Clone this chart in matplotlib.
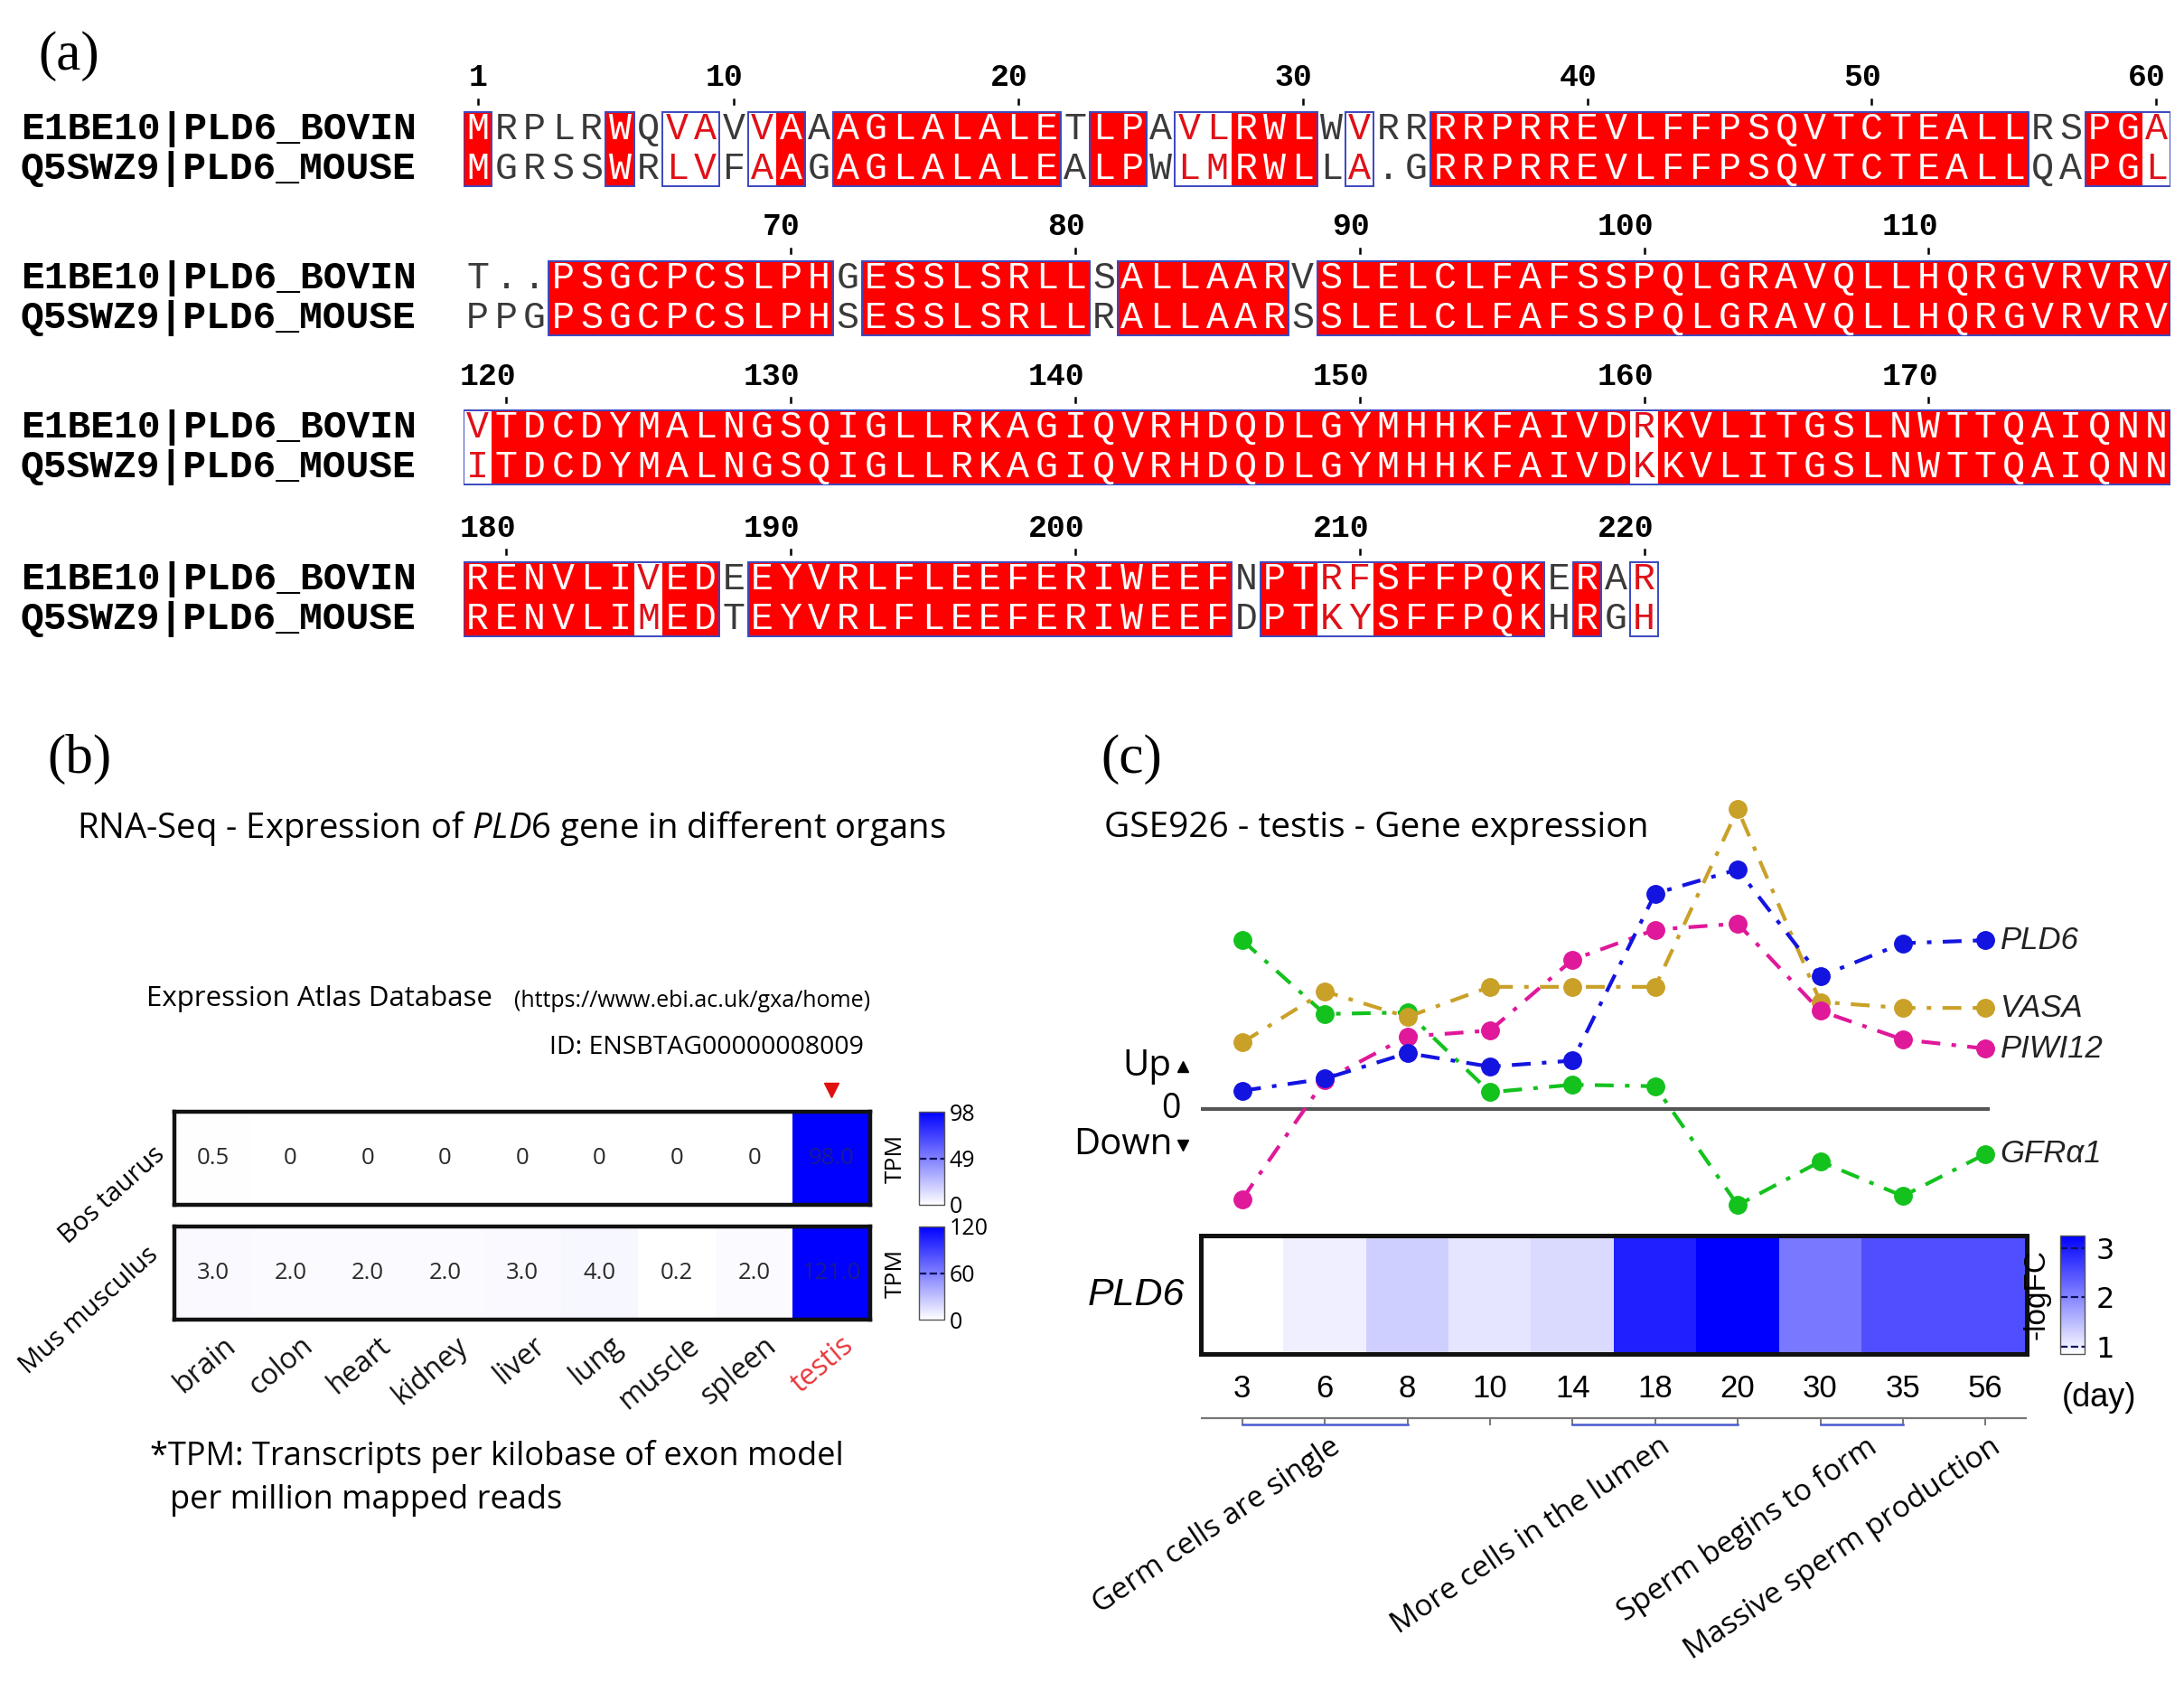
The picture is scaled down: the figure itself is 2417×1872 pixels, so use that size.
import matplotlib
matplotlib.use("Agg")
import matplotlib.pyplot as plt
import numpy as np
from matplotlib.colors import LinearSegmentedColormap, Normalize
from matplotlib.cm import ScalarMappable
from matplotlib.patches import Rectangle
from matplotlib import transforms

W, H = 2417, 1872
plt.rcParams["mathtext.fontset"] = "custom"
plt.rcParams["mathtext.rm"] = "Open Sans"
plt.rcParams["mathtext.it"] = "Open Sans:italic"

SANS = "Open Sans"
MONO = "Liberation Mono"
SERIF = "Liberation Serif"

# ---------------- (a) pairwise alignment ----------------
NAMES = ["E1BE10|PLD6_BOVIN", "Q5SWZ9|PLD6_MOUSE"]
BOVIN = [
    "MRPLRWQVAVVAAAGLALALETLPAVLRWLWVRRRRPRREVLFFPSQVTCTEALLRSPGA",
    "T..PSGCPCSLPHGESSLSRLLSALLAARVSLELCLFAFSSPQLGRAVQLLHQRGVRVRV",
    "VTDCDYMALNGSQIGLLRKAGIQVRHDQDLGYMHHKFAIVDRKVLITGSLNWTTQAIQNN",
    "RENVLIVEDEEYVRLFLEEFERIWEEFNPTRFSFFPQKERAR",
]
MOUSE = [
    "MGRSSWRLVFAAGAGLALALEALPWLMRWLLA.GRRPRREVLFFPSQVTCTEALLQAPGL",
    "PPGPSGCPCSLPHSESSLSRLLRALLAARSSLELCLFAFSSPQLGRAVQLLHQRGVRVRV",
    "ITDCDYMALNGSQIGLLRKAGIQVRHDQDLGYMHHKFAIVDKKVLITGSLNWTTQAIQNN",
    "RENVLIMEDTEYVRLFLEEFERIWEEFDPTKYSFFPQKHRGH",
]
SIMILAR = {"LV", "AV", "AL", "LM", "IV", "KR", "MV", "FY", "HR"}

# ---------------- (b) Expression Atlas ----------------
ORGANS = ["brain", "colon", "heart", "kidney", "liver", "lung", "muscle", "spleen", "testis"]
SPECIES = ["Bos taurus", "Mus musculus"]
TPM_BOS = [0.5, 0, 0, 0, 0, 0, 0, 0, 98.0]
TPM_MUS = [3.0, 2.0, 2.0, 2.0, 3.0, 4.0, 0.2, 2.0, 121.0]
TPM_LABELS_BOS = ["0.5", "0", "0", "0", "0", "0", "0", "0", "98.0"]
TPM_LABELS_MUS = ["3.0", "2.0", "2.0", "2.0", "3.0", "4.0", "0.2", "2.0", "121.0"]
CBAR_TICKS_BOS = [0, 49, 98]
CBAR_TICKS_MUS = [0, 60, 120]

# ---------------- (c) GSE926 ----------------
DAYS = ["3", "6", "8", "10", "14", "18", "20", "30", "35", "56"]
GENES = ["GFRα1", "VASA", "PIWI12", "PLD6"]
EXPR = {
    "PLD6":   [0.60, 1.00, 1.85, 1.40, 1.60, 7.15, 7.95, 4.40, 5.50, 5.60],
    "VASA":   [2.20, 3.90, 3.05, 4.05, 4.05, 4.05, 9.95, 3.55, 3.35, 3.35],
    "PIWI12": [-3.00, 0.95, 2.40, 2.60, 4.95, 5.95, 6.15, 3.25, 2.30, 2.00],
    "GFRα1":  [5.60, 3.15, 3.20, 0.55, 0.80, 0.75, -3.20, -1.75, -2.90, -1.50],
}
GENE_COLORS = {"PLD6": "#1414e0", "VASA": "#c9a128", "PIWI12": "#e0189a", "GFRα1": "#14c21e"}
PLD6_LOGFC = [0.85, 1.0, 1.3, 1.1, 1.2, 2.95, 3.25, 2.1, 2.5, 2.5]
LOGFC_TICKS = [1, 2, 3]
STAGES = [("Germ cells are single", 0, 2), ("More cells in the lumen", 4, 6),
          ("Sperm begins to form", 7, 8), ("Massive sperm production", 9, 9)]

RED = "#ff0000"
RED_TXT = "#e01018"
FRAME = "#3a48c0"
BLUE_MAP = LinearSegmentedColormap.from_list("wb", ["#ffffff", "#0000ff"])

fig = plt.figure(figsize=(W / 100, H / 100), dpi=100)
fig.patch.set_facecolor("white")


def px_axes(x0, y0, x1, y1):
    return fig.add_axes([x0 / W, 1 - y1 / H, (x1 - x0) / W, (y1 - y0) / H])


def ftext(x, y, s, **kw):
    return fig.text(x / W, 1 - y / H, s, **kw)


# ================= panel (a) =================
ftext(76, 62, "(a)", fontsize=44, family=SERIF, ha="center", va="center")
ax_a = px_axes(513, 40, 2402, 720)
ax_a.set_xlim(0, 60)
ax_a.set_ylim(720, 40)
ax_a.set_axis_off()
name_tr = transforms.blended_transform_factory(fig.transFigure, ax_a.transData)

BLOCK_Y = [143, 308, 473, 641]
ROW_GAP = 44
HALF = 19


def col_code(a, b):
    if a == b and a != ".":
        return "I"
    if "".join(sorted(a + b)) in SIMILAR:
        return "S"
    return "."


def runs(codes, keep):
    out, start = [], None
    for i, c in enumerate(codes + ["."]):
        if c in keep and start is None:
            start = i
        elif c not in keep and start is not None:
            out.append((start, i))
            start = None
    return out


resnum = 0
for b, (top, bot) in enumerate(zip(BOVIN, MOUSE)):
    y1 = BLOCK_Y[b]
    y2 = y1 + ROW_GAP
    codes = [col_code(a, c) for a, c in zip(top, bot)]
    for s, e in runs(codes, "I"):
        ax_a.add_patch(Rectangle((s, y1 - HALF), e - s, y2 - y1 + 2 * HALF,
                                 facecolor=RED, edgecolor="none", zorder=1))
    for s, e in runs(codes, "IS"):
        ax_a.add_patch(Rectangle((s, y1 - HALF), e - s, y2 - y1 + 2 * HALF,
                                 facecolor="none", edgecolor=FRAME, lw=1.4, zorder=2))
    for i, (a, c) in enumerate(zip(top, bot)):
        col = {"I": "white", "S": RED_TXT, ".": "#3a3a3a"}[codes[i]]
        for ch, yy in ((a, y1), (c, y2)):
            ax_a.text(i + 0.5, yy, ch, color=col, fontsize=30, family=MONO,
                      ha="center", va="center", zorder=3)
        if a != ".":
            resnum += 1
            if resnum == 1 or resnum % 10 == 0:
                ax_a.text(i + 0.5 + 0.34, y1 - 57, str(resnum), fontsize=25, family=MONO,
                          fontweight="bold", ha="right", va="center")
                ax_a.plot([i + 0.5, i + 0.5], [y1 - 33, y1 - 28], color="black", lw=1.8)
    for k, nm in enumerate(NAMES):
        ax_a.text(23 / W, y1 + k * ROW_GAP, nm, transform=name_tr, fontsize=31, family=MONO,
                  fontweight="bold", ha="left", va="center")

# ================= panel (b) =================
ftext(88, 840, "(b)", fontsize=44, family=SERIF, ha="center", va="center")
ftext(85, 916, "RNA-Seq - Expression of $\\mathit{PLD6}$ gene in different organs",
      fontsize=27.5, family=SANS, ha="left", va="center")
ftext(162, 1105, "Expression Atlas Database", fontsize=22.5, family=SANS, ha="left", va="center")
ftext(963, 1107, "(https://www.ebi.ac.uk/gxa/home)", fontsize=18, family=SANS, ha="right", va="center")
ftext(956, 1159, "ID: ENSBTAG00000008009", fontsize=20.5, family=SANS, ha="right", va="center")

rows = [(TPM_BOS, TPM_LABELS_BOS, CBAR_TICKS_BOS, (1230, 1333)),
        (TPM_MUS, TPM_LABELS_MUS, CBAR_TICKS_MUS, (1357, 1460))]
SPECIES_POS = [(-1.3, 0.4), (-1.6, 0.4)]
b_axes = []
for r, (vals, labs, cticks, (y0, y1)) in enumerate(rows):
    ax = px_axes(193, y0, 963, y1)
    norm = Normalize(0, max(vals))
    ax.imshow(np.array([vals]), cmap=BLUE_MAP, norm=norm, aspect="auto")
    for j, lab in enumerate(labs):
        tc = "#1a1a90" if vals[j] > 0.5 * max(vals) else "#2a2a2a"
        ax.text(j, 0, lab, ha="center", va="center", fontsize=18.5, family=SANS, color=tc)
    ax.set_xticks([])
    ax.set_yticks([])
    for sp in ax.spines.values():
        sp.set_linewidth(3.2)
        sp.set_color("#111111")
    sx, sy = SPECIES_POS[r]
    ax.text(sx, sy, SPECIES[r], rotation=42, fontsize=21, family=SANS,
            ha="center", va="center", rotation_mode="anchor", clip_on=False)
    b_axes.append(ax)

    cax = px_axes(1017, y0, 1045, y1)
    cb = fig.colorbar(ScalarMappable(Normalize(cticks[0], cticks[-1]), BLUE_MAP), cax=cax)
    cb.set_ticks(cticks)
    cb.set_ticklabels([str(v) for v in cticks])
    cax.tick_params(length=0, labelsize=18, pad=4)
    for lab in cax.get_yticklabels():
        lab.set_family(SANS)
    cb.outline.set_linewidth(1.0)
    cb.outline.set_edgecolor("#555555")
    cax.axhline(cticks[1], color="#101060", ls="--", lw=1.6)
    ftext(991, (y0 + y1) / 2, "TPM", rotation=90, fontsize=19, family=SANS, ha="center", va="center")

b_axes[0].plot([8], [-0.73], marker="v", color="#e01010", ms=11, clip_on=False)
b_axes[0].set_ylim(0.5, -0.5)
for j, org in enumerate(ORGANS):
    b_axes[1].text(j + 0.12, 0.62, org, rotation=40, rotation_mode="anchor", ha="right", va="top",
                   fontsize=23, family=SANS, color="#e8383d" if org == "testis" else "#111111",
                   clip_on=False)
ftext(166, 1611, "*TPM: Transcripts per kilobase of exon model", fontsize=26, family=SANS,
      ha="left", va="center")
ftext(188, 1660, "per million mapped reads", fontsize=26, family=SANS, ha="left", va="center")

# ================= panel (c) =================
ftext(1252, 840, "(c)", fontsize=44, family=SERIF, ha="center", va="center")
ftext(1222, 916, "GSE926 - testis - Gene expression", fontsize=28, family=SANS, ha="left", va="center")

ax_l = px_axes(1329, 870, 2243, 1360)
ax_l.set_axis_off()
xs = np.arange(len(DAYS))
ax_l.plot([-0.5, 9.05], [0, 0], color="#555555", lw=3, solid_capstyle="butt", zorder=1)
for g in GENES:
    ax_l.plot(xs, EXPR[g], color=GENE_COLORS[g], lw=3.0, ls=(0, (5, 3, 1.2, 3)),
              marker="o", ms=14, zorder=3)
    ax_l.text(9.18, EXPR[g][-1], g, fontsize=25, family="Liberation Sans", style="italic",
              ha="left", va="center", color="#222222")
ax_l.text(-0.86, 1.4, "Up", fontsize=29, family=SANS, ha="right", va="center")
ax_l.plot([-0.72], [1.4], marker="^", color="black", ms=8, clip_on=False)
ax_l.text(-0.75, 0.0, "0", fontsize=27, family=SANS, ha="right", va="center")
ax_l.text(-0.84, -1.2, "Down", fontsize=29, family=SANS, ha="right", va="center")
ax_l.plot([-0.72], [-1.2], marker="v", color="black", ms=8, clip_on=False)
ax_l.set_xlim(-0.5, 9.5)
ax_l.set_ylim(-4.0, 10.71)

ax_h = px_axes(1329, 1367, 2243, 1498)
ax_h.imshow(np.array([PLD6_LOGFC]), cmap=BLUE_MAP, vmin=0.85, vmax=3.25, aspect="auto")
ax_h.set_yticks([])
ax_h.set_xticks(xs)
ax_h.set_xticklabels(DAYS, fontsize=25, family="Liberation Sans")
ax_h.tick_params(axis="x", length=0, pad=16)
for sp in ax_h.spines.values():
    sp.set_linewidth(3.6)
    sp.set_color("#111111")
ax_h.text(-0.7, 0, "PLD6", fontsize=31, family="Liberation Sans", style="italic",
          ha="right", va="center")
ftext(2323, 1546, "(day)", fontsize=26, family="Liberation Sans", ha="center", va="center")
ftext(2254, 1432, "-logFC", rotation=90, fontsize=24, family="Liberation Sans", ha="center", va="center")

cax_c = px_axes(2280, 1367, 2307, 1498)
cbc = fig.colorbar(ScalarMappable(Normalize(0.85, 3.25), BLUE_MAP), cax=cax_c)
cbc.set_ticks(LOGFC_TICKS)
cax_c.tick_params(length=0, labelsize=23, pad=9)
cbc.outline.set_linewidth(1.0)
cbc.outline.set_edgecolor("#555555")
for v in LOGFC_TICKS:
    cax_c.axhline(v, color="#101060", ls="--", lw=1.6)

# timeline with developmental stages
ax_t = px_axes(1329, 1550, 2243, 1620)
ax_t.set_axis_off()
ax_t.plot([-0.5, 9.5], [19, 19], color="#777777", lw=1.6)
for x in xs:
    ax_t.plot([x, x], [19, 26], color="#777777", lw=1.4)
for name, s, e in STAGES:
    if e > s:
        ax_t.plot([s, e], [26, 26], color="#4a5ad0", lw=1.8)
    ax_t.text((s + e) / 2 + 0.05, 34, name, rotation=34, rotation_mode="anchor", ha="right", va="top",
              fontsize=24, family=SANS, clip_on=False)
ax_t.set_xlim(-0.5, 9.5)
ax_t.set_ylim(70, 0)

fig.savefig("out.png", dpi=100, facecolor="white")
